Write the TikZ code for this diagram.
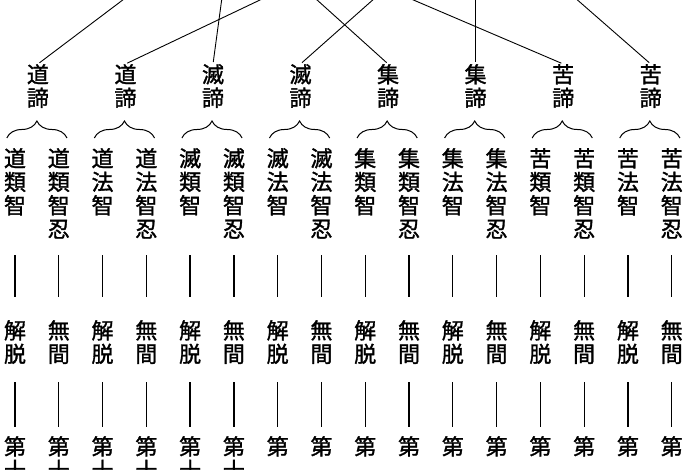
\documentclass[tikz,border=0pt]{standalone}
\usepackage{fontspec}
\newfontfamily\jfont[FakeBold=1.4]{Noto Sans CJK JP}
\usetikzlibrary{decorations.pathreplacing}

\tikzset{
    kanji/.style={font=\jfont\fontsize{22}{23.5}\selectfont, align=center, inner sep=0pt, anchor=north},
    edge/.style={line width=0.9pt},
    bar/.style={line width=1.3pt},
    curly/.style={decorate, decoration={brace, amplitude=17pt}, line width=1pt}
}
\newcommand{\tatebox}[1]{\parbox[t][100pt][t]{24pt}{\centering #1}}

\begin{document}
\begin{tikzpicture}[x=1pt,y=1pt]
    \useasboundingbox (0,0) rectangle (700,470);

    % nodes (truths)
    \node[kanji] (dao1) at (37.9,406) {道\\諦};
    \node[kanji] (dao2) at (125.5,406) {道\\諦};
    \node[kanji] (mie1) at (213.0,406) {滅\\諦};
    \node[kanji] (mie2) at (300.5,406) {滅\\諦};
    \node[kanji] (ji1) at (388.1,406) {集\\諦};
    \node[kanji] (ji2) at (475.6,406) {集\\諦};
    \node[kanji] (ku1) at (563.2,406) {苦\\諦};
    \node[kanji] (ku2) at (650.7,406) {苦\\諦};

    % free ends above the picture
    \coordinate (up1) at (136,480);
    \coordinate (up2) at (281,480);
    \coordinate (up3) at (223,480);
    \coordinate (up4) at (384,480);
    \coordinate (up5) at (306,480);
    \coordinate (up6) at (475.6,480);
    \coordinate (up7) at (390,480);
    \coordinate (up8) at (566,480);

    % nodes (wisdoms)
    \foreach \i/\t in {1/道\\類\\智, 2/道\\類\\智\\忍, 3/道\\法\\智, 4/道\\法\\智\\忍,
                       5/滅\\類\\智, 6/滅\\類\\智\\忍, 7/滅\\法\\智, 8/滅\\法\\智\\忍,
                       9/集\\類\\智, 10/集\\類\\智\\忍, 11/集\\法\\智, 12/集\\法\\智\\忍,
                       13/苦\\類\\智, 14/苦\\類\\智\\忍, 15/苦\\法\\智, 16/苦\\法\\智\\忍}
        \node[kanji] (zhi\i) at ({15+43.78*(\i-1)},322) {\tatebox{\t}};

    % nodes (paths and steps)
    \foreach \i/\t/\n in {1/解\\脱/第\\十\\六, 2/無\\間/第\\十\\五, 3/解\\脱/第\\十\\四, 4/無\\間/第\\十\\三,
                          5/解\\脱/第\\十\\二, 6/無\\間/第\\十\\一, 7/解\\脱/第, 8/無\\間/第,
                          9/解\\脱/第, 10/無\\間/第, 11/解\\脱/第, 12/無\\間/第,
                          13/解\\脱/第, 14/無\\間/第, 15/解\\脱/第, 16/無\\間/第}
    {
        \node[kanji] (jie\i) at ({15+43.78*(\i-1)},150) {\t};
        \node[kanji] (di\i) at ({15+43.78*(\i-1)},34) {\n};
    }

    % edges
    \draw[edge, shorten >=2pt] (up1) -- (dao1.north);
    \draw[edge, shorten >=2pt] (up2) -- (dao2.north);
    \draw[edge, shorten >=2pt] (up3) -- (mie1.north);
    \draw[edge, shorten >=2pt] (up4) -- (mie2.north);
    \draw[edge, shorten >=2pt] (up5) -- (ji1.north);
    \draw[edge, shorten >=2pt] (up6) -- (ji2.north);
    \draw[edge, shorten >=2pt] (up7) -- (ku1.north);
    \draw[edge, shorten >=2pt] (up8) -- (ku2.north);

    % braces
    \foreach \l/\r in {1/2, 3/4, 5/6, 7/8, 9/10, 11/12, 13/14, 15/16}
        \draw[curly] ([xshift=4pt,yshift=10pt]zhi\l.north west) -- ([xshift=-4pt,yshift=10pt]zhi\r.north east);

    % bars
    \foreach \i in {1,...,16}
    {
        \draw[bar, shorten <=7pt, shorten >=23pt] (zhi\i) -- (jie\i);
        \draw[bar, shorten <=18pt, shorten >=9pt] (jie\i) -- (di\i);
    }

\end{tikzpicture}
\end{document}
